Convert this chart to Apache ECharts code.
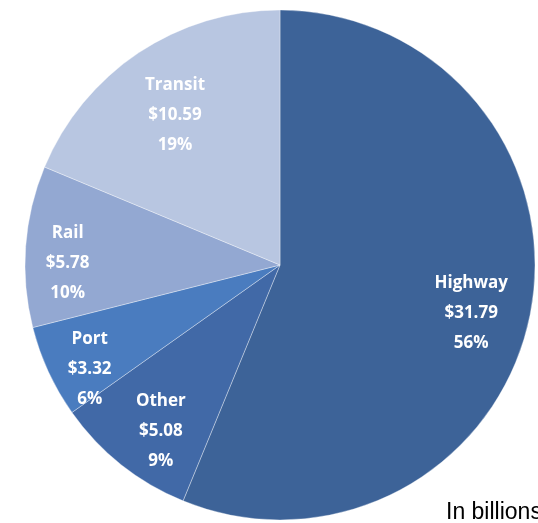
<!DOCTYPE html>
<html>
<head>
<meta charset="utf-8">
<script src="https://cdn.jsdelivr.net/npm/echarts@6/dist/echarts.min.js"></script>
<style>
html,body{margin:0;padding:0;background:#fff;}
#chart{width:538px;height:523px;}
</style>
</head>
<body>
<div id="chart"></div>
<script>
// Data (billions of dollars)
const categories = ["Highway", "Other", "Port", "Rail", "Transit"];
const values = [31.79, 5.08, 3.32, 5.78, 10.59];
const sliceColors = ["#3d6398", "#4169a7", "#4a7cbf", "#93a8d2", "#b8c6e1"];
const unitNote = "In billions";

// label placement tweaks (radial factor and pixel nudge)
const labelPush = [1.54, 1.59, 1.69, 1.67, 1.45];
const labelNudge = [[-6, 9], [10, 4], [10, 12], [5, 14], [0, 8]];

const CX = 280, CY = 265, R = 255;

const chart = echarts.init(document.getElementById('chart'), null, {renderer: 'canvas'});

const option = {
  animation: false,
  backgroundColor: '#ffffff',
  color: sliceColors,
  series: [{
    type: 'pie',
    center: [CX, CY],
    radius: [0, R],
    startAngle: 90,
    clockwise: true,
    percentPrecision: 0,
    avoidLabelOverlap: false,
    itemStyle: {borderColor: 'rgba(255,255,255,0.35)', borderWidth: 1},
    emphasis: {disabled: true},
    label: {
      show: true,
      position: 'inside',
      color: '#ffffff',
      fontFamily: 'Open Sans',
      fontWeight: 'bold',
      fontSize: 17,
      lineHeight: 30,
      align: 'center',
      formatter: function (p) {
        return p.name + '\n$' + p.value.toFixed(2) + '\n' + p.percent + '%';
      }
    },
    labelLine: {show: false},
    labelLayout: function (params) {
      const r = params.labelRect;
      const lx = r.x + r.width / 2;
      const ly = r.y + r.height / 2;
      const i = params.dataIndex;
      const k = labelPush[i];
      return {x: CX + (lx - CX) * k + labelNudge[i][0], y: CY + (ly - CY) * k + labelNudge[i][1]};
    },
    data: categories.map((c, i) => ({name: c, value: values[i]}))
  }],
  graphic: [{
    type: 'text',
    left: 446,
    top: 501,
    style: {
      text: unitNote,
      fontFamily: 'Liberation Sans',
      fontSize: 23,
      fill: '#000000'
    }
  }]
};
chart.setOption(option);
</script>
</body>
</html>
